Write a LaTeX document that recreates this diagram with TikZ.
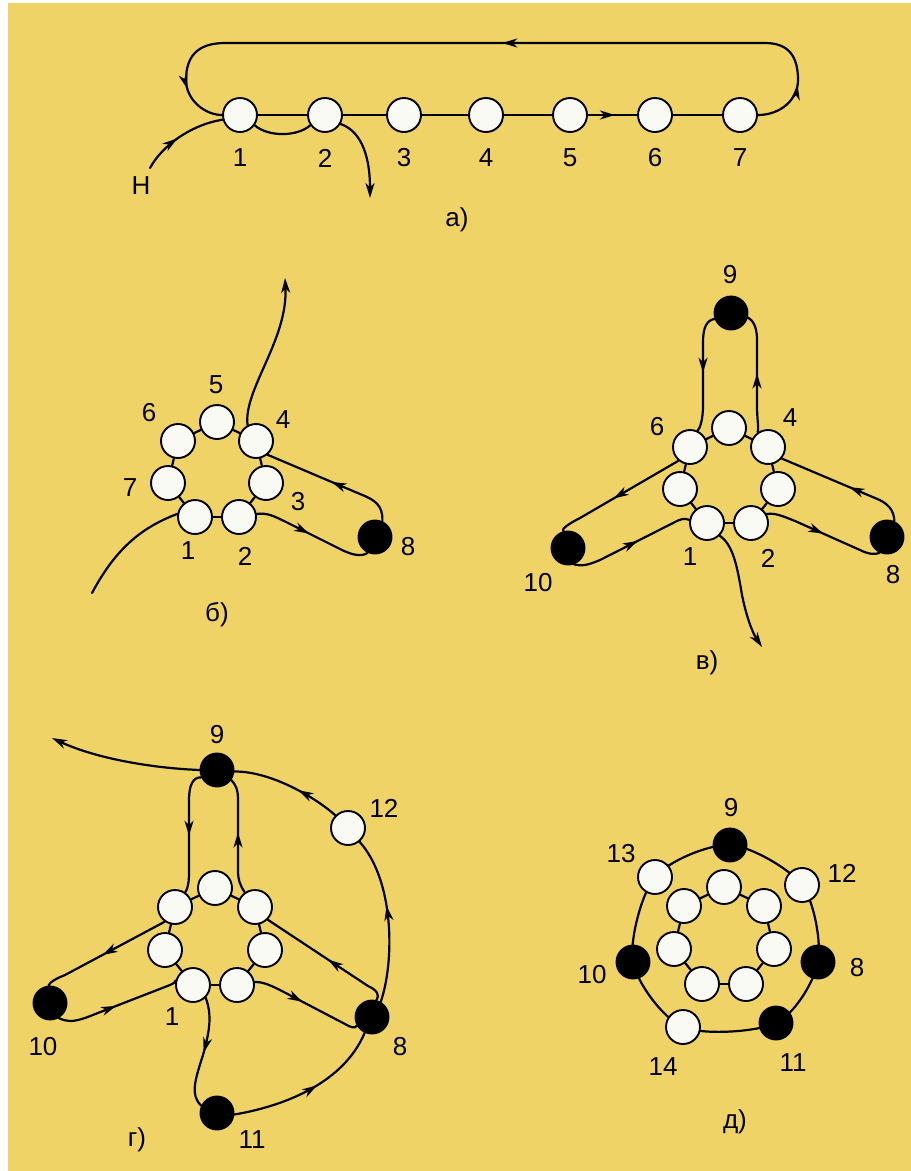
\documentclass[tikz,border=0pt]{standalone}
\usepackage{fontspec}
\setmainfont{Liberation Sans}
\usetikzlibrary{arrows.meta,decorations.markings}
\definecolor{bgy}{RGB}{240,211,102}
\definecolor{nw}{RGB}{250,250,244}
\pgfdeclarelayer{back}
\pgfdeclarelayer{lines}
\pgfsetlayers{back,lines,main}
\begin{document}
\begin{tikzpicture}[x=1pt,y=-1pt,
  wn/.style={circle,draw=black,line width=1.9pt,fill=nw,minimum size=34pt,inner sep=0pt},
  bn/.style={circle,draw=black,line width=1.9pt,fill=black,minimum size=33pt,inner sep=0pt},
  lab/.style={inner sep=0pt,font=\fontsize{26}{30}\selectfont},
  ln/.style={line width=2.2pt,line cap=round,line join=round},
  arrat/.style={postaction={decorate,decoration={markings,mark=at position #1 with {\arrow{Stealth[length=15pt,width=9pt,inset=4.5pt]}}}}},
  tip/.style={-{Stealth[length=15pt,width=9pt,inset=4.5pt]}}
]
\useasboundingbox (0,0) rectangle (911,1171);
\begin{pgfonlayer}{back}
\fill[white] (0,0) rectangle (911,1171);
\fill[bgy] (8,3) rectangle (911,1171);
\end{pgfonlayer}

% ---------- panel a ----------
\foreach \i/\x in {1/240,2/325,3/404,4/486,5/570,6/655,7/740}{
  \node[wn] (a\i) at (\x,115) {};
  \node[lab] (la\i) at (\x,158) {\i};
}
\coordinate (aH) at (150,168);
\coordinate (aOut) at (370,198);
\node[lab] (laH) at (141,186) {Н};
\node[lab] (lacap) at (457,220) {а)};

% ---------- panel b ----------
\node[wn] (b1) at (195,517) {};
\node[wn] (b2) at (239,517) {};
\node[wn] (b3) at (266,483) {};
\node[wn] (b4) at (256,441) {};
\node[wn] (b5) at (217,422) {};
\node[wn] (b6) at (178,441) {};
\node[wn] (b7) at (168,483) {};
\node[bn] (b8) at (375,537) {};
\coordinate (bIn) at (92,593);
\coordinate (bOut) at (285,278);
\node[lab] (lb5) at (216,385) {5};
\node[lab] (lb6) at (149,413) {6};
\node[lab] (lb4) at (283,420) {4};
\node[lab] (lb7) at (130,488) {7};
\node[lab] (lb3) at (298,502) {3};
\node[lab] (lb1) at (188,551) {1};
\node[lab] (lb2) at (245,556) {2};
\node[lab] (lb8) at (408,547) {8};
\node[lab] (lbcap) at (217,615) {б)};

% ---------- panel v ----------
\node[wn] (c1) at (707,523) {};
\node[wn] (c2) at (751,523) {};
\node[wn] (c3) at (778,489) {};
\node[wn] (c4) at (768,447) {};
\node[wn] (c5) at (729,428) {};
\node[wn] (c6) at (690,447) {};
\node[wn] (c7) at (680,489) {};
\node[bn] (c8) at (887,537) {};
\node[bn] (c9) at (731,313) {};
\node[bn] (c10) at (568,548) {};
\coordinate (cOut) at (762,647);
\node[lab] (lc9) at (730,275) {9};
\node[lab] (lc6) at (657,427) {6};
\node[lab] (lc4) at (790,418) {4};
\node[lab] (lc1) at (690,557) {1};
\node[lab] (lc2) at (768,558) {2};
\node[lab] (lc10) at (538,583) {10};
\node[lab] (lc8) at (893,575) {8};
\node[lab] (lccap) at (707,663) {в)};

% ---------- panel g ----------
\node[wn] (d1) at (193,985) {};
\node[wn] (d2) at (237,985) {};
\node[wn] (d3) at (265,950) {};
\node[wn] (d4) at (255,907) {};
\node[wn] (d5) at (215,888) {};
\node[wn] (d6) at (175,907) {};
\node[wn] (d7) at (165,950) {};
\node[bn] (d8) at (372,1017) {};
\node[bn] (d9) at (217,770) {};
\node[bn] (d10) at (50,1003) {};
\node[bn] (d11) at (217,1113) {};
\node[wn] (d12) at (348,828) {};
\coordinate (dOut) at (52,738);
\node[lab] (ld9) at (217,735) {9};
\node[lab] (ld12) at (384,808) {12};
\node[lab] (ld10) at (43,1047) {10};
\node[lab] (ld1) at (172,1017) {1};
\node[lab] (ld8) at (400,1047) {8};
\node[lab] (ld11) at (252,1140) {11};
\node[lab] (ldcap) at (137,1140) {г)};

% ---------- panel d ----------
\node[wn] (e1) at (702,984) {};
\node[wn] (e2) at (746,984) {};
\node[wn] (e3) at (774,949) {};
\node[wn] (e4) at (764,906) {};
\node[wn] (e5) at (724,887) {};
\node[wn] (e6) at (684,906) {};
\node[wn] (e7) at (674,949) {};
\node[bn] (f9) at (730,845) {};
\node[wn] (f12) at (802,885) {};
\node[bn] (f8) at (818,962) {};
\node[bn] (f11) at (776,1023) {};
\node[wn] (f14) at (683,1027) {};
\node[bn] (f10) at (633,962) {};
\node[wn] (f13) at (655,877) {};
\node[lab] (lf9) at (731,808) {9};
\node[lab] (lf13) at (621,854) {13};
\node[lab] (lf12) at (842,873) {12};
\node[lab] (lf10) at (592,975) {10};
\node[lab] (lf8) at (857,968) {8};
\node[lab] (lf14) at (663,1067) {14};
\node[lab] (lf11) at (793,1063) {11};
\node[lab] (lfcap) at (735,1122) {д)};

\begin{pgfonlayer}{lines}
% panel a
\draw[ln] (a1)--(a2);
\draw[ln] (a2)--(a3);
\draw[ln] (a3)--(a4);
\draw[ln] (a4)--(a5);
\draw[ln,arrat=0.55] (a5)--(a6);
\draw[ln] (a6)--(a7);
\draw[ln] (a1.-35) .. controls (268,137) and (297,137) .. (a2.-145);
\draw[ln,tip] (a2.-30) .. controls (358,130) and (370,150) .. (aOut);
\draw[ln,arrat=0.45] (aH) .. controls (162,146) and (190,125) .. (a1.195);
\draw[ln,arrat=0.07,arrat=0.49,arrat=0.94] (a7.east) .. controls (780,115) and (798,100) .. (798,80)
  .. controls (798,58) and (790,43) .. (765,43) -- (225,43)
  .. controls (196,43) and (186,58) .. (186,80)
  .. controls (186,100) and (205,115) .. (a1.west);

% panel b
\draw[ln] (b1)--(b2); \draw[ln] (b2)--(b3); \draw[ln] (b3)--(b4);
\draw[ln] (b4)--(b5); \draw[ln] (b5)--(b6); \draw[ln] (b6)--(b7); \draw[ln] (b7)--(b1);
\draw[ln] (bIn) .. controls (115,550) and (140,528) .. (b1.170);
\draw[ln,tip] (b4.118) .. controls (243,390) and (288,340) .. (bOut);
\draw[ln,arrat=0.47] (b2.10) .. controls (268,513) and (272,515) .. (290,524) -- (342,550)
  .. controls (352,555) and (362,557) .. (b8.-115);
\draw[ln,arrat=0.5] (b8.65) .. controls (383,505) and (375,500) .. (360,494) -- (b4.-50);

% panel v
\draw[ln] (c1)--(c2); \draw[ln] (c2)--(c3); \draw[ln] (c3)--(c4);
\draw[ln] (c4)--(c5); \draw[ln] (c5)--(c6); \draw[ln] (c6)--(c7); \draw[ln] (c7)--(c1);
\draw[ln,arrat=0.5] (c9.200) .. controls (707,320) and (703,327) .. (703,342) -- (703,405)
  .. controls (703,420) and (700,428) .. (c6.65);
\draw[ln,arrat=0.5] (c4.125) .. controls (759,428) and (757,420) .. (757,405) -- (757,340)
  .. controls (757,325) and (752,320) .. (c9.-15);
\draw[ln,arrat=0.45] (c8.65) .. controls (894,510) and (888,503) .. (875,498) -- (c4.-40);
\draw[ln,arrat=0.5] (c2.30) .. controls (775,513) and (780,515) .. (795,521) -- (860,550)
  .. controls (868,554) and (875,555) .. (c8.-115);
\draw[ln,arrat=0.55] (c6.-130) -- (580,518) .. controls (566,525) and (561,530) .. (c10.105);
\draw[ln,arrat=0.55] (c10.-70) .. controls (581,566) and (586,566) .. (600,560) -- (675,522)
  .. controls (680,519) and (685,518) .. (c1.170);
\draw[ln,tip] (c1.-45) .. controls (733,545) and (737,565) .. (742,595)
  .. controls (746,615) and (752,632) .. (cOut);

% panel g
\draw[ln] (d1)--(d2); \draw[ln] (d2)--(d3); \draw[ln] (d3)--(d4);
\draw[ln] (d4)--(d5); \draw[ln] (d5)--(d6); \draw[ln] (d6)--(d7); \draw[ln] (d7)--(d1);
\draw[ln,tip] (d9.180) .. controls (150,768) and (95,758) .. (dOut);
\draw[ln,arrat=0.4] (d12.135) .. controls (315,797) and (270,771) .. (d9.-5);
\draw[ln,arrat=0.58] (d8.60) .. controls (395,960) and (394,880) .. (d12.-50);
\draw[ln,arrat=0.55] (d11.-5) .. controls (290,1105) and (345,1080) .. (d8.-115);
\draw[ln,arrat=0.5] (d1.-45) .. controls (212,1015) and (210,1030) .. (203,1055)
  .. controls (195,1080) and (190,1095) .. (d11.155);
\draw[ln,arrat=0.53] (d9.205) .. controls (193,777) and (189,785) .. (189,800) -- (189,872)
  .. controls (189,882) and (188,888) .. (d6.55);
\draw[ln,arrat=0.53] (d4.125) .. controls (240,885) and (238,880) .. (238,870) -- (238,800)
  .. controls (238,790) and (236,785) .. (d9.-35);
\draw[ln,arrat=0.53] (d6.-125) -- (65,975) .. controls (55,979) and (50,982) .. (d10.95);
\draw[ln,arrat=0.48] (d10.-60) .. controls (68,1022) and (72,1022) .. (85,1018) -- (170,985)
  .. controls (174,983) and (176,982) .. (d1.165);
\draw[ln,arrat=0.48] (d8.75) .. controls (380,995) and (377,990) .. (368,986) -- (d4.-45);
\draw[ln,arrat=0.46] (d2.10) .. controls (262,982) and (268,984) .. (280,990) -- (345,1024)
  .. controls (350,1027) and (355,1029) .. (d8.-150);

% panel d
\draw[ln] (e1)--(e2); \draw[ln] (e2)--(e3); \draw[ln] (e3)--(e4);
\draw[ln] (e4)--(e5); \draw[ln] (e5)--(e6); \draw[ln] (e6)--(e7); \draw[ln] (e7)--(e1);
\draw[ln] plot[smooth cycle] coordinates {(f9.center) (f12.center) (f8.center) (f11.center) (f14.center) (f10.center) (f13.center)};
\end{pgfonlayer}
\end{tikzpicture}
\end{document}
